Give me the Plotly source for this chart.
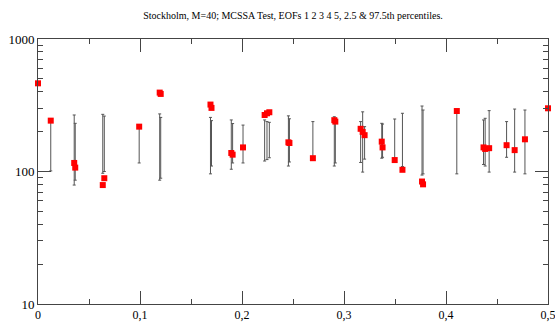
import plotly.graph_objects as go

# frequency (cycles), observed value, 2.5th and 97.5th percentiles
freq = [0.0, 0.0125, 0.0355, 0.0365, 0.0635, 0.065, 0.0992, 0.1193, 0.1203,
        0.1691, 0.1701, 0.1895, 0.1908, 0.2010, 0.2222, 0.2245, 0.2268,
        0.2455, 0.2465, 0.2695, 0.2905, 0.2915, 0.3163, 0.3183, 0.3202,
        0.3370, 0.3378, 0.3497, 0.3573, 0.3765, 0.3775, 0.4106, 0.4368,
        0.4384, 0.4423, 0.4594, 0.4673, 0.4774, 0.5]
value = [463, 242, 116, 107, 79, 89, 218, 394, 385,
         320, 302, 138, 134, 152, 267, 275, 280,
         166, 164, 126, 244, 238, 210, 199, 188,
         168, 152, 122, 103, 84, 80, 286, 152,
         148, 150, 158, 145, 175, 300]
p_low = [463, 101, 79, 86, 97, 100, 116, 86, 89,
         96, 110, 104, 116, 116, 120, 123, 127,
         110, 118, 125, 110, 116, 117, 99, 124,
         126, 128, 124, 109, 94, 96, 96, 113,
         110, 99, 128, 99, 96, 300]
p_high = [463, 245, 267, 231, 270, 262, 222, 272, 256,
          256, 242, 245, 230, 224, 245, 238, 235,
          263, 250, 238, 259, 252, 238, 282, 218,
          231, 228, 249, 275, 312, 291, 288, 245,
          252, 288, 238, 296, 291, 300]

x_tickvals = [0, 0.1, 0.2, 0.3, 0.4, 0.5]
x_ticktext = ["0", "0,1", "0,2", "0,3", "0,4", "0,5"]
y_tickvals = [10, 100, 1000]
y_ticktext = ["10", "100", "1000"]
y_minor_vals = [20, 30, 40, 50, 60, 70, 80, 90, 200, 300, 400, 500, 600, 700, 800, 900]

title = "Stockholm, M=40; MCSSA Test, EOFs 1 2 3 4 5, 2.5 & 97.5th percentiles."

fig = go.Figure()

# percentile ranges as error bars hanging from the 97.5th percentile
fig.add_trace(go.Scatter(
    x=freq, y=p_high, mode="markers",
    marker=dict(size=1, color="rgba(0,0,0,0)"),
    error_y=dict(type="data", symmetric=False,
                 array=[0] * len(freq),
                 arrayminus=[h - l for h, l in zip(p_high, p_low)],
                 color="#555555", thickness=1, width=1.5),
    hoverinfo="skip", showlegend=False, cliponaxis=False,
))

fig.add_trace(go.Scatter(
    x=freq, y=value, mode="markers",
    marker=dict(symbol="square", size=6, color="#ff0000"),
    showlegend=False, cliponaxis=False,
))

font_family = "Liberation Serif, Times New Roman, serif"
axis_col = "#444"

fig.update_layout(
    width=555, height=327,
    margin=dict(l=38, r=7, t=39, b=23, autoexpand=False),
    paper_bgcolor="white", plot_bgcolor="white",
    title=dict(text=title, x=0.528, xanchor="center", y=0.954, yanchor="middle",
               font=dict(family=font_family, size=10, color="black")),
    font=dict(family=font_family, color="black"),
    xaxis=dict(
        range=[0, 0.5], tickvals=x_tickvals, ticktext=x_ticktext,
        ticks="inside", ticklen=13, tickcolor=axis_col, tickwidth=1,
        minor=dict(ticks="inside", ticklen=5, tick0=0, dtick=0.05, tickcolor=axis_col),
        showline=True, linecolor=axis_col, linewidth=1, mirror="ticks",
        showgrid=False, zeroline=False, automargin=False,
        ticklabeloverflow="allow",
        tickfont=dict(family=font_family, size=12),
    ),
    yaxis=dict(
        type="log", range=[1, 3], tickvals=y_tickvals, ticktext=y_ticktext,
        ticks="inside", ticklen=13, tickcolor=axis_col, tickwidth=1,
        showline=True, linecolor=axis_col, linewidth=1, mirror="ticks",
        showgrid=False, zeroline=False, automargin=False,
        ticklabeloverflow="allow",
        tickfont=dict(family=font_family, size=13),
    ),
    yaxis2=dict(
        type="log", range=[1, 3], overlaying="y", side="left",
        tickvals=y_minor_vals, ticktext=[""] * len(y_minor_vals),
        ticks="inside", ticklen=5, tickcolor=axis_col, tickwidth=1,
        showline=True, linecolor=axis_col, linewidth=1,
        mirror="ticks", showgrid=False, zeroline=False,
        automargin=False,
    ),
)

# invisible trace to activate the minor-tick axis
fig.add_trace(go.Scatter(x=[None], y=[None], yaxis="y2", showlegend=False,
                         hoverinfo="skip"))

fig.write_html("out.html", config={"displayModeBar": False},
               post_script="document.body.style.margin='0';")
